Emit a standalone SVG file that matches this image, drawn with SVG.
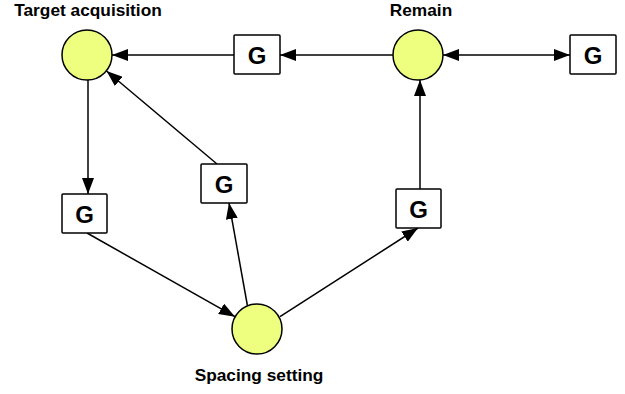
<svg xmlns="http://www.w3.org/2000/svg" width="625" height="394" viewBox="0 0 625 394">
<style>
.c{fill:#eeff80;stroke:#000;stroke-width:1.5}
.b{fill:#fff;stroke:#000;stroke-width:1.5}
.g{font-family:"Liberation Sans",Arial,sans-serif;font-weight:bold;font-size:24px;text-anchor:middle;fill:#000}
.l{font-family:"Liberation Sans",Arial,sans-serif;font-weight:bold;font-size:17.3px;text-anchor:middle;fill:#000}
.e{stroke:#000;stroke-width:1.5;fill:none;marker-end:url(#ah)}
</style>
<defs>
<marker id="ah" markerUnits="userSpaceOnUse" markerWidth="16" markerHeight="12" refX="16" refY="6" orient="auto-start-reverse" viewBox="0 0 16 12">
<path d="M0,0 L16,6 L0,12 z" fill="#000"/>
</marker>
</defs>
<rect width="625" height="394" fill="#fff"/>
<g id="connectors">
<line class="e" x1="234" y1="55" x2="112" y2="55"/>
<line class="e" x1="393" y1="55" x2="280" y2="55"/>
<line class="e" x1="443" y1="55" x2="570" y2="55" marker-start="url(#ah)"/>
<line class="e" x1="88" y1="80" x2="88" y2="194"/>
<line class="e" x1="87" y1="233" x2="235" y2="316.7"/>
<line class="e" x1="247.3" y1="305" x2="229" y2="203"/>
<line class="e" x1="217" y1="164" x2="106.5" y2="71"/>
<line class="e" x1="280" y1="316.7" x2="418" y2="228"/>
<line class="e" x1="420" y1="189" x2="420" y2="80"/>
</g>
<g id="target-acquisition">
<circle class="c" cx="87" cy="55" r="25"/>
<text class="l" x="88" y="16">Target acquisition</text>
</g>
<g id="remain">
<circle class="c" cx="418" cy="55" r="25"/>
<text class="l" x="421" y="15.5">Remain</text>
</g>
<g id="spacing-setting">
<circle class="c" cx="257" cy="329" r="25"/>
<text class="l" x="259" y="381">Spacing setting</text>
</g>
<g id="g1">
<rect class="b" x="234" y="35" width="46" height="39" rx="1"/>
<text class="g" x="257" y="64">G</text>
</g>
<g id="g2">
<rect class="b" x="570" y="35" width="46" height="39" rx="1"/>
<text class="g" x="593" y="64">G</text>
</g>
<g id="g3">
<rect class="b" x="62" y="194" width="45" height="39" rx="1"/>
<text class="g" x="84.5" y="222.5">G</text>
</g>
<g id="g4">
<rect class="b" x="201" y="164" width="46" height="39" rx="1"/>
<text class="g" x="224" y="192.5">G</text>
</g>
<g id="g5">
<rect class="b" x="396" y="189" width="45" height="39" rx="1"/>
<text class="g" x="418.5" y="217.5">G</text>
</g>
</svg>
